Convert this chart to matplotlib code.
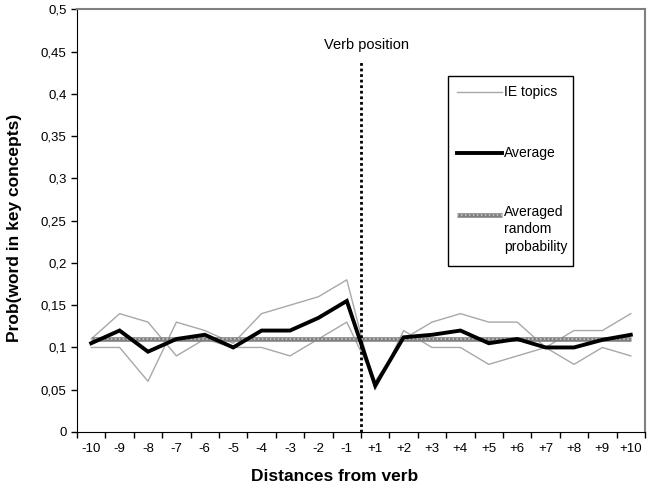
import matplotlib
matplotlib.use('Agg')
import matplotlib.pyplot as plt
from matplotlib.patches import Rectangle

plt.rcParams['font.family'] = ['Liberation Sans', 'DejaVu Sans']

# distances from the verb (categories)
labels = ['-10', '-9', '-8', '-7', '-6', '-5', '-4', '-3', '-2', '-1',
          '+1', '+2', '+3', '+4', '+5', '+6', '+7', '+8', '+9', '+10']

# two IE topics (thin grey) and their average (thick black)
topic_a = [0.11, 0.14, 0.13, 0.09, 0.11, 0.10, 0.10, 0.09, 0.11, 0.13,
           0.06, 0.11, 0.13, 0.14, 0.13, 0.13, 0.10, 0.08, 0.10, 0.09]
topic_b = [0.10, 0.10, 0.06, 0.13, 0.12, 0.105, 0.14, 0.15, 0.16, 0.18,
           0.05, 0.12, 0.10, 0.10, 0.08, 0.09, 0.10, 0.12, 0.12, 0.14]
average = [0.105, 0.12, 0.095, 0.11, 0.115, 0.10, 0.12, 0.12, 0.135, 0.155,
           0.055, 0.112, 0.115, 0.12, 0.105, 0.11, 0.10, 0.10, 0.109, 0.115]
random_prob = 0.11

yticks = [0, 0.05, 0.1, 0.15, 0.2, 0.25, 0.3, 0.35, 0.4, 0.45, 0.5]

fig = plt.figure(figsize=(6.5, 4.93), dpi=100)
ax = fig.add_axes([77/650, 1-432/493, 568/650, 422.7/493])

x = [i + 0.5 for i in range(len(labels))]

ax.plot(x, topic_a, color='#a8a8a8', lw=1)
ax.plot(x, topic_b, color='#a8a8a8', lw=1)
ax.plot(x, [random_prob]*len(x), color='#808080', lw=3.3, solid_capstyle='butt')
ax.plot(x, [random_prob]*len(x), color='#d0d0d0', lw=1.1, dashes=(1, 1.6))
ax.plot(x, average, color='black', lw=2.8, solid_joinstyle='miter')

# verb position marker
ax.vlines(10, 0, 0.44, colors='black', lw=2, linestyles=(0, (1, 1)))
ax.text(10.2, 0.458, 'Verb position', ha='center', va='center', fontsize=10.5)

ax.set_xlim(0, 20)
ax.set_ylim(0, 0.5)
ax.set_xticks(range(21))
ax.set_xticklabels([])
ax.set_xticks(x, minor=True)
ax.set_xticklabels(labels, minor=True, fontsize=9.5)
ax.tick_params(axis='x', which='minor', length=0, pad=8)
ax.tick_params(axis='x', which='major', length=4, direction='out', width=1)
ax.set_yticks(yticks)
ax.set_yticklabels([('%g' % t).replace('.', ',') for t in yticks], fontsize=9.5)
ax.tick_params(axis='y', length=4, direction='out', width=1)

for s in ['top', 'right']:
    ax.spines[s].set_color('#808080')
    ax.spines[s].set_linewidth(1.5)

ax.set_xlabel('Distances from verb', fontsize=12.5, fontweight='bold')
ax.set_ylabel('Prob(word in key concepts)', fontsize=12.5, fontweight='bold')
ax.xaxis.set_label_coords(0.454, -0.088)
ax.yaxis.set_label_coords(-0.097, 0.483)

# legend box
ax.add_patch(Rectangle((0.653, 0.393), 0.22, 0.449, transform=ax.transAxes,
                       fill=False, edgecolor='black', lw=1))
hx = [0.669, 0.748]
ax.plot(hx, [0.804, 0.804], transform=ax.transAxes, color='#a8a8a8', lw=1)
ax.plot(hx, [0.660, 0.660], transform=ax.transAxes, color='black', lw=2.8)
ax.plot(hx, [0.513, 0.513], transform=ax.transAxes, color='#808080', lw=3.3, solid_capstyle='butt')
ax.plot(hx, [0.513, 0.513], transform=ax.transAxes, color='#d0d0d0', lw=1.1, dashes=(1, 1.6))
ax.text(0.752, 0.804, 'IE topics', transform=ax.transAxes, va='center', fontsize=10)
ax.text(0.752, 0.660, 'Average', transform=ax.transAxes, va='center', fontsize=10)
ax.text(0.752, 0.537, 'Averaged\nrandom\nprobability', transform=ax.transAxes,
        va='top', fontsize=10, linespacing=1.3)

fig.savefig('out.png', dpi=100)
